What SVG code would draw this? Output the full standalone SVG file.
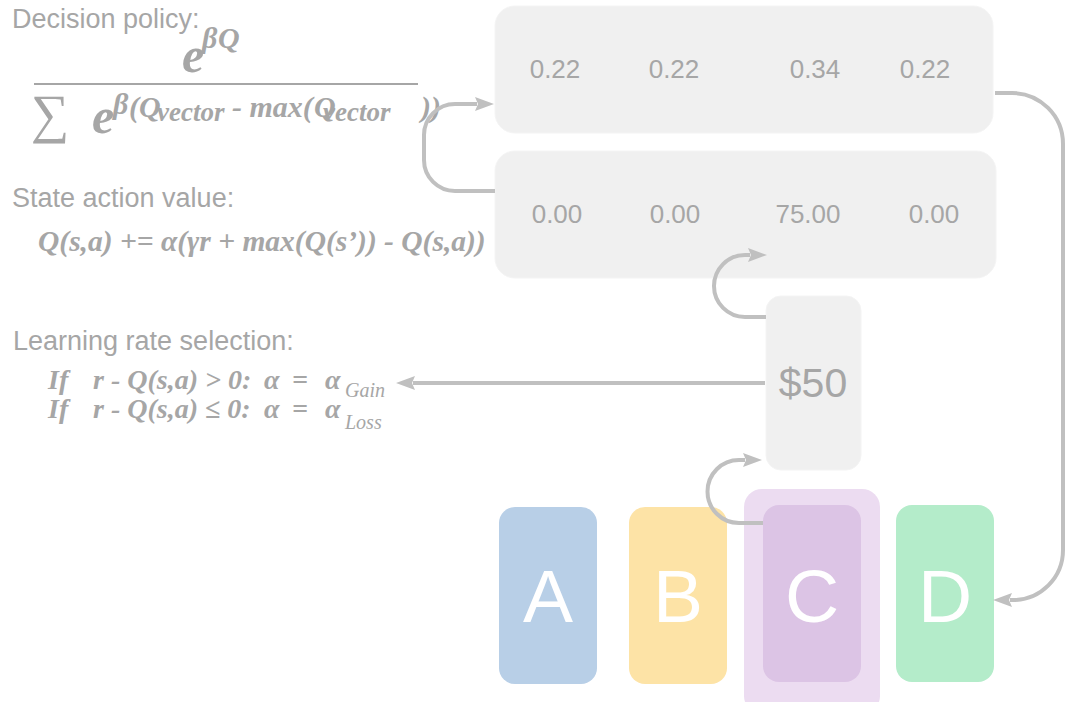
<svg xmlns="http://www.w3.org/2000/svg" width="1067" height="702" viewBox="0 0 1067 702">
  <style>
    .label { font-family: "Liberation Sans", Arial, sans-serif; font-size: 27px; fill: #a6a6a6; }
    .math { font-family: "Liberation Serif", "DejaVu Serif", serif; font-weight: bold; font-style: italic; fill: #a6a6a6; }
    .sub { font-family: "Liberation Serif", "DejaVu Serif", serif; font-style: italic; font-weight: normal; fill: #a6a6a6; }
    .panel { fill: #f0f0f0; stroke: #f4f4f4; stroke-width: 1; }
    .val { font-family: "Liberation Sans", Arial, sans-serif; fill: #a6a6a6; text-anchor: middle; }
    .card-label { font-family: "Liberation Sans", Arial, sans-serif; font-size: 75px; fill: #ffffff; text-anchor: middle; }
    .link { fill: none; stroke: #c0c0c0; stroke-width: 4; }
  </style>
  <defs>
    <marker id="head" markerUnits="userSpaceOnUse" markerWidth="20" markerHeight="16" refX="2" refY="8" orient="auto">
      <path d="M0,1 L19,8 L0,15 L3,8 z" fill="#c0c0c0"/>
    </marker>
  </defs>

  <!-- softmax policy -->
  <g id="policy">
    <text class="label" x="12" y="28">Decision policy:</text>
    <text class="math" x="182" y="72" font-size="50">e</text>
    <text class="math" x="202" y="48" font-size="30">β</text>
    <text class="math" x="218" y="48" font-size="30">Q</text>
    <line x1="34" y1="84" x2="418" y2="84" stroke="#a6a6a6" stroke-width="2"/>
    <text x="31" y="132" font-family="Liberation Serif, DejaVu Serif, serif" font-size="54" fill="#a6a6a6">∑</text>
    <text class="math" x="92" y="133" font-size="50">e</text>
    <text class="math" x="113" y="114" font-size="30">β</text>
    <text class="math" x="129" y="117" font-size="30">(Q</text>
    <text class="math" x="157" y="121" font-size="27">vector</text>
    <text class="math" x="232" y="117" font-size="30">- max(</text>
    <text class="math" x="314" y="117" font-size="30">Q</text>
    <text class="math" x="323" y="121" font-size="27">vector</text>
    <text class="math" x="421" y="117" font-size="30">))</text>
  </g>

  <!-- Q update rule -->
  <g id="update">
    <text class="label" x="12" y="207">State action value:</text>
    <text class="math" x="38" y="251" font-size="29.5">Q(s,a) += α(γr + max(Q(s’)) - Q(s,a))</text>
  </g>

  <!-- asymmetric learning rates -->
  <g id="learning-rate">
    <text class="label" x="13" y="350">Learning rate selection:</text>
    <text class="math" x="48" y="389" font-size="28">If<tspan x="93">r - Q(s,a) &gt; 0:</tspan><tspan x="264">α</tspan><tspan x="292">=</tspan><tspan x="325">α</tspan><tspan class="sub" x="345" dy="8" font-size="20">Gain</tspan></text>
    <text class="math" x="48" y="418" font-size="28">If<tspan x="93">r - Q(s,a) ≤ 0:</tspan><tspan x="264">α</tspan><tspan x="292">=</tspan><tspan x="325">α</tspan><tspan class="sub" x="345" dy="11" font-size="20">Loss</tspan></text>
  </g>

  <!-- choice probabilities -->
  <g id="probabilities">
    <rect class="panel" x="495" y="6" width="498" height="127" rx="20"/>
    <text class="val" x="555" y="78" font-size="26">0.22</text>
    <text class="val" x="674" y="78" font-size="26">0.22</text>
    <text class="val" x="815" y="78" font-size="26">0.34</text>
    <text class="val" x="925" y="78" font-size="26">0.22</text>
  </g>

  <!-- Q values -->
  <g id="q-values">
    <rect class="panel" x="495" y="151" width="501" height="127" rx="20"/>
    <text class="val" x="557" y="223" font-size="26">0.00</text>
    <text class="val" x="675" y="223" font-size="26">0.00</text>
    <text class="val" x="808" y="223" font-size="26">75.00</text>
    <text class="val" x="934" y="223" font-size="26">0.00</text>
  </g>

  <!-- reward -->
  <g id="reward">
    <rect class="panel" x="766" y="296" width="95" height="174" rx="15"/>
    <text class="val" x="813" y="397" font-size="41">$50</text>
  </g>

  <!-- decks -->
  <g id="deck-a">
    <rect x="499" y="507" width="98" height="177" rx="16" fill="#b8cfe7"/>
    <text class="card-label" x="548" y="622">A</text>
  </g>
  <g id="deck-b">
    <rect x="629" y="507" width="98" height="177" rx="16" fill="#fde3a6"/>
    <text class="card-label" x="678" y="622">B</text>
  </g>
  <g id="deck-c">
    <rect x="744" y="489" width="136" height="225" rx="18" fill="#ecdcf1"/>
    <rect x="763" y="505" width="98" height="177" rx="16" fill="#dcc4e5"/>
    <text class="card-label" x="812" y="622">C</text>
  </g>
  <g id="deck-d">
    <rect x="896" y="505" width="98" height="177" rx="16" fill="#b4ecca"/>
    <text class="card-label" x="945" y="622">D</text>
  </g>

  <!-- connectors -->
  <g id="connectors">
    <path class="link" d="M495,191 H455 A31,31 0 0 1 424,160 V135 A31,31 0 0 1 455,104 H477" marker-end="url(#head)"/>
    <path class="link" d="M995,93 H1012 A51,51 0 0 1 1063,144 V550 A50,50 0 0 1 1013,600 H1010" marker-end="url(#head)"/>
    <path class="link" d="M766,317 H745 A31,31 0 0 1 745,255 H750" marker-end="url(#head)"/>
    <path class="link" d="M763,523 H739 A31.5,31.5 0 0 1 739,460 H745" marker-end="url(#head)"/>
    <path class="link" d="M765,383 H413" marker-end="url(#head)"/>
  </g>
</svg>
